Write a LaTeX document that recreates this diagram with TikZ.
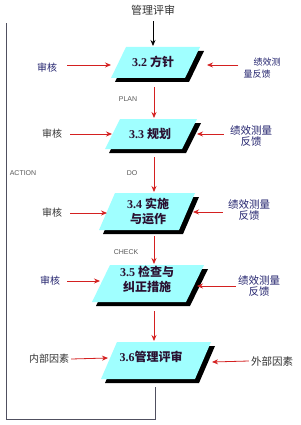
\documentclass[tikz,border=0pt]{standalone}
\usepackage{fontspec}
\setmainfont{Liberation Serif}
\setsansfont{Liberation Sans}
\newfontfamily\cjk{Noto Sans CJK SC}
\usetikzlibrary{arrows.meta}
\definecolor{boxcyan}{HTML}{A0FFFF}
\definecolor{arrred}{HTML}{D42020}
\definecolor{lblue}{HTML}{23236E}
\definecolor{loopgray}{HTML}{505060}
\definecolor{boxink}{HTML}{2A1030}
\newcommand\drawpgram[5]{%
  \fill[black] ({#1+4},{#3+4}) -- ({#2+4},{#3+4}) -- ({#2-#5+4},{#4+4}) -- ({#1-#5+4},{#4+4}) -- cycle;
  \fill[boxcyan] (#1,#3) -- (#2,#3) -- ({#2-#5},#4) -- ({#1-#5},#4) -- cycle;}
\begin{document}
\begin{tikzpicture}[x=1pt,y=-1pt,
  boxtext/.style={font=\bfseries\fontsize{12}{15}\selectfont, text=boxink, align=center, inner sep=0},
  lbl/.style={font=\cjk\fontsize{10}{12}\selectfont, text=lblue, align=center, inner sep=0},
  dlbl/.style={font=\cjk\fontsize{10}{12}\selectfont, text=black!80, align=center, inner sep=0},
  phase/.style={font=\sffamily\fontsize{7}{8}\selectfont, text=black!65, inner sep=0},
  redarrow/.style={draw=arrred, line width=0.8pt, -{Stealth[length=6pt,width=5pt]}},
  blackarrow/.style={draw=black, line width=0.8pt, -{Stealth[length=6pt,width=5pt]}},
  loopline/.style={draw=loopgray, line width=0.8pt}]
\useasboundingbox (0,0) rectangle (300,425);
\fill[white] (0,0) rectangle (300,425);

% boxes: TL x, TR x, top y, bottom y, skew
\drawpgram{126}{200}{47}{78}{15}
\drawpgram{120}{197}{119}{149}{15}
\drawpgram{115}{195}{193}{230}{16}
\drawpgram{110}{204}{265}{302}{18}
\drawpgram{117}{211}{342}{379}{16}

% box texts
\node[boxtext] (b2) at (153,62) {3.2 {\cjk 方针}};
\node[boxtext] (b3) at (150,134) {3.3 {\cjk 规划}};
\node[boxtext] (b4) at (148,211) {3.4 {\cjk 实施}\\{\cjk 与运作}};
\node[boxtext] (b5) at (147,279) {3.5 {\cjk 检查与}\\{\cjk 纠正措施}};
\node[boxtext] (b6) at (151,357) {3.6{\cjk 管理评审}};

% top label and arrow
\node[dlbl, font=\cjk\fontsize{11}{12}\selectfont] (top) at (153,10) {管理评审};
\coordinate (b2n) at (153,46);
\draw[blackarrow] (top.south) ++(0,6) coordinate (topa) (topa) -- (b2n);

% vertical flow
\coordinate (s2) at (154,87);  \coordinate (t3) at (154,118);
\coordinate (s3) at (154,157); \coordinate (t4) at (154,192);
\coordinate (s4) at (154,236); \coordinate (t5) at (154,264);
\coordinate (s5) at (154,311); \coordinate (t6) at (154,341);
\draw[redarrow] (s2) -- (t3);
\draw[redarrow] (s3) -- (t4);
\draw[redarrow] (s4) -- (t5);
\draw[redarrow] (s5) -- (t6);

% phase labels
\node[phase] (plan) at (128,99) {PLAN};
\node[phase] (do) at (132,173) {DO};
\node[phase] (check) at (126,252) {CHECK};
\node[phase] (action) at (23,173) {ACTION};

% left labels
\node[lbl] (l2) at (47,68) {审核};
\node[lbl, text=black!80] (l3) at (52,134) {审核};
\node[lbl, text=black!80] (l4) at (52,213) {审核};
\node[lbl] (l5) at (50,281) {审核};
\node[dlbl] (l6) at (49,359) {内部因素};
\coordinate (b2w) at (111,65);
\coordinate (b3w) at (112,134);
\coordinate (b4w) at (107,213);
\coordinate (b5w) at (100,281);
\coordinate (b6w) at (108,358);
\draw[redarrow] (l2.east) ++(10,-3) coordinate (l2a) (l2a) -- (b2w);
\draw[redarrow] (l3.east) ++(8,0) coordinate (l3a) (l3a) -- (b3w);
\draw[redarrow] (l4.east) ++(8,0) coordinate (l4a) (l4a) -- (b4w);
\draw[redarrow] (l5.east) ++(7,0) coordinate (l5a) (l5a) -- (b5w);
\draw[redarrow] (l6.east) ++(2,0) coordinate (l6a) (l6a) -- (b6w);

% right labels
\node[lbl, font=\cjk\fontsize{9}{12}\selectfont, align=left] (r2) at (262,68) {\hspace*{10pt}绩效测\\量反馈};
\node[lbl, font=\cjk\fontsize{10.5}{11}\selectfont] (r3) at (251,136) {绩效测量\\反馈};
\node[lbl, font=\cjk\fontsize{10.5}{11}\selectfont] (r4) at (249,210) {绩效测量\\反馈};
\node[lbl, font=\cjk\fontsize{10.5}{11}\selectfont] (r5) at (259,286) {绩效测量\\反馈};
\node[dlbl, font=\cjk\fontsize{10.5}{12}\selectfont] (r6) at (272,361) {外部因素};
\coordinate (b2e) at (207,65);
\coordinate (b3e) at (197,134);
\coordinate (b4e) at (193,212);
\coordinate (b5e) at (197,286);
\coordinate (b6e) at (212,362);
\draw[redarrow] (r2.west) ++(-5,-3) coordinate (r2a) (r2a) -- (b2e);
\draw[redarrow] (r3.west) ++(-6,-2) coordinate (r3a) (r3a) -- (b3e);
\draw[redarrow] (r4.west) ++(-5,2) coordinate (r4a) (r4a) -- (b4e);
\draw[redarrow] (r5.west) ++(-2,0) coordinate (r5a) (r5a) -- (b5e);
\draw[redarrow] (r6.west) ++(-2,0) coordinate (r6a) (r6a) -- (b6e);

% feedback loop
\coordinate (b6s) at (155,387);
\coordinate (lb) at (6,419);
\coordinate (lt) at (6,23);
\draw[loopline] (b6s) |- (lb) -- (lt);
\end{tikzpicture}
\end{document}
